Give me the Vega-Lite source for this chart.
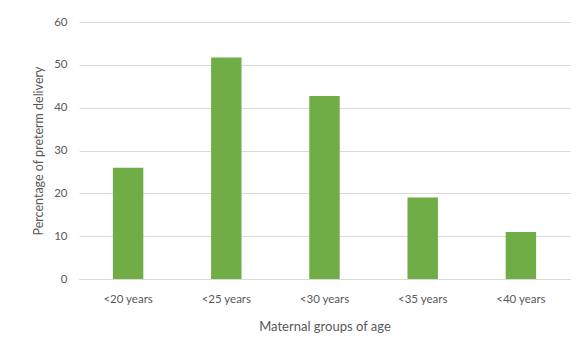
{
  "$schema": "https://vega.github.io/schema/vega-lite/v6.json",
  "width": 491,
  "height": 257,
  "autosize": {"type": "none"},
  "padding": {"left": 79, "top": 22, "right": 12, "bottom": 72},
  "background": "white",
  "data": {
    "values": [
      {"group": "<20 years", "pct": 26},
      {"group": "<25 years", "pct": 51.7},
      {"group": "<30 years", "pct": 42.7},
      {"group": "<35 years", "pct": 19},
      {"group": "<40 years", "pct": 11}
    ]
  },
  "mark": {"type": "bar", "color": "#70AD47"},
  "encoding": {
    "x": {
      "field": "group",
      "type": "nominal",
      "sort": null,
      "scale": {"paddingInner": 0.69, "paddingOuter": 0.345},
      "axis": {
        "title": "Maternal groups of age",
        "labelAngle": 0,
        "ticks": false,
        "domainColor": "#d9d9d9",
        "labelPadding": 14,
        "titlePadding": 16,
        "labelFontSize": 11.5,
        "titleFontSize": 13,
        "labelColor": "#595959",
        "titleColor": "#595959",
        "titleFontWeight": "normal",
        "labelFont": "Lato",
        "titleFont": "Lato"
      }
    },
    "y": {
      "field": "pct",
      "type": "quantitative",
      "scale": {"domain": [0, 60]},
      "axis": {
        "title": "Percentage of preterm delivery",
        "values": [0, 10, 20, 30, 40, 50, 60],
        "domain": false,
        "ticks": false,
        "gridColor": "#d9d9d9",
        "labelPadding": 12,
        "titlePadding": 8,
        "labelFontSize": 11.5,
        "titleFontSize": 12.5,
        "labelColor": "#595959",
        "titleColor": "#595959",
        "titleFontWeight": "normal",
        "labelFont": "Lato",
        "titleFont": "Lato"
      }
    }
  },
  "config": {"view": {"stroke": null}}
}
